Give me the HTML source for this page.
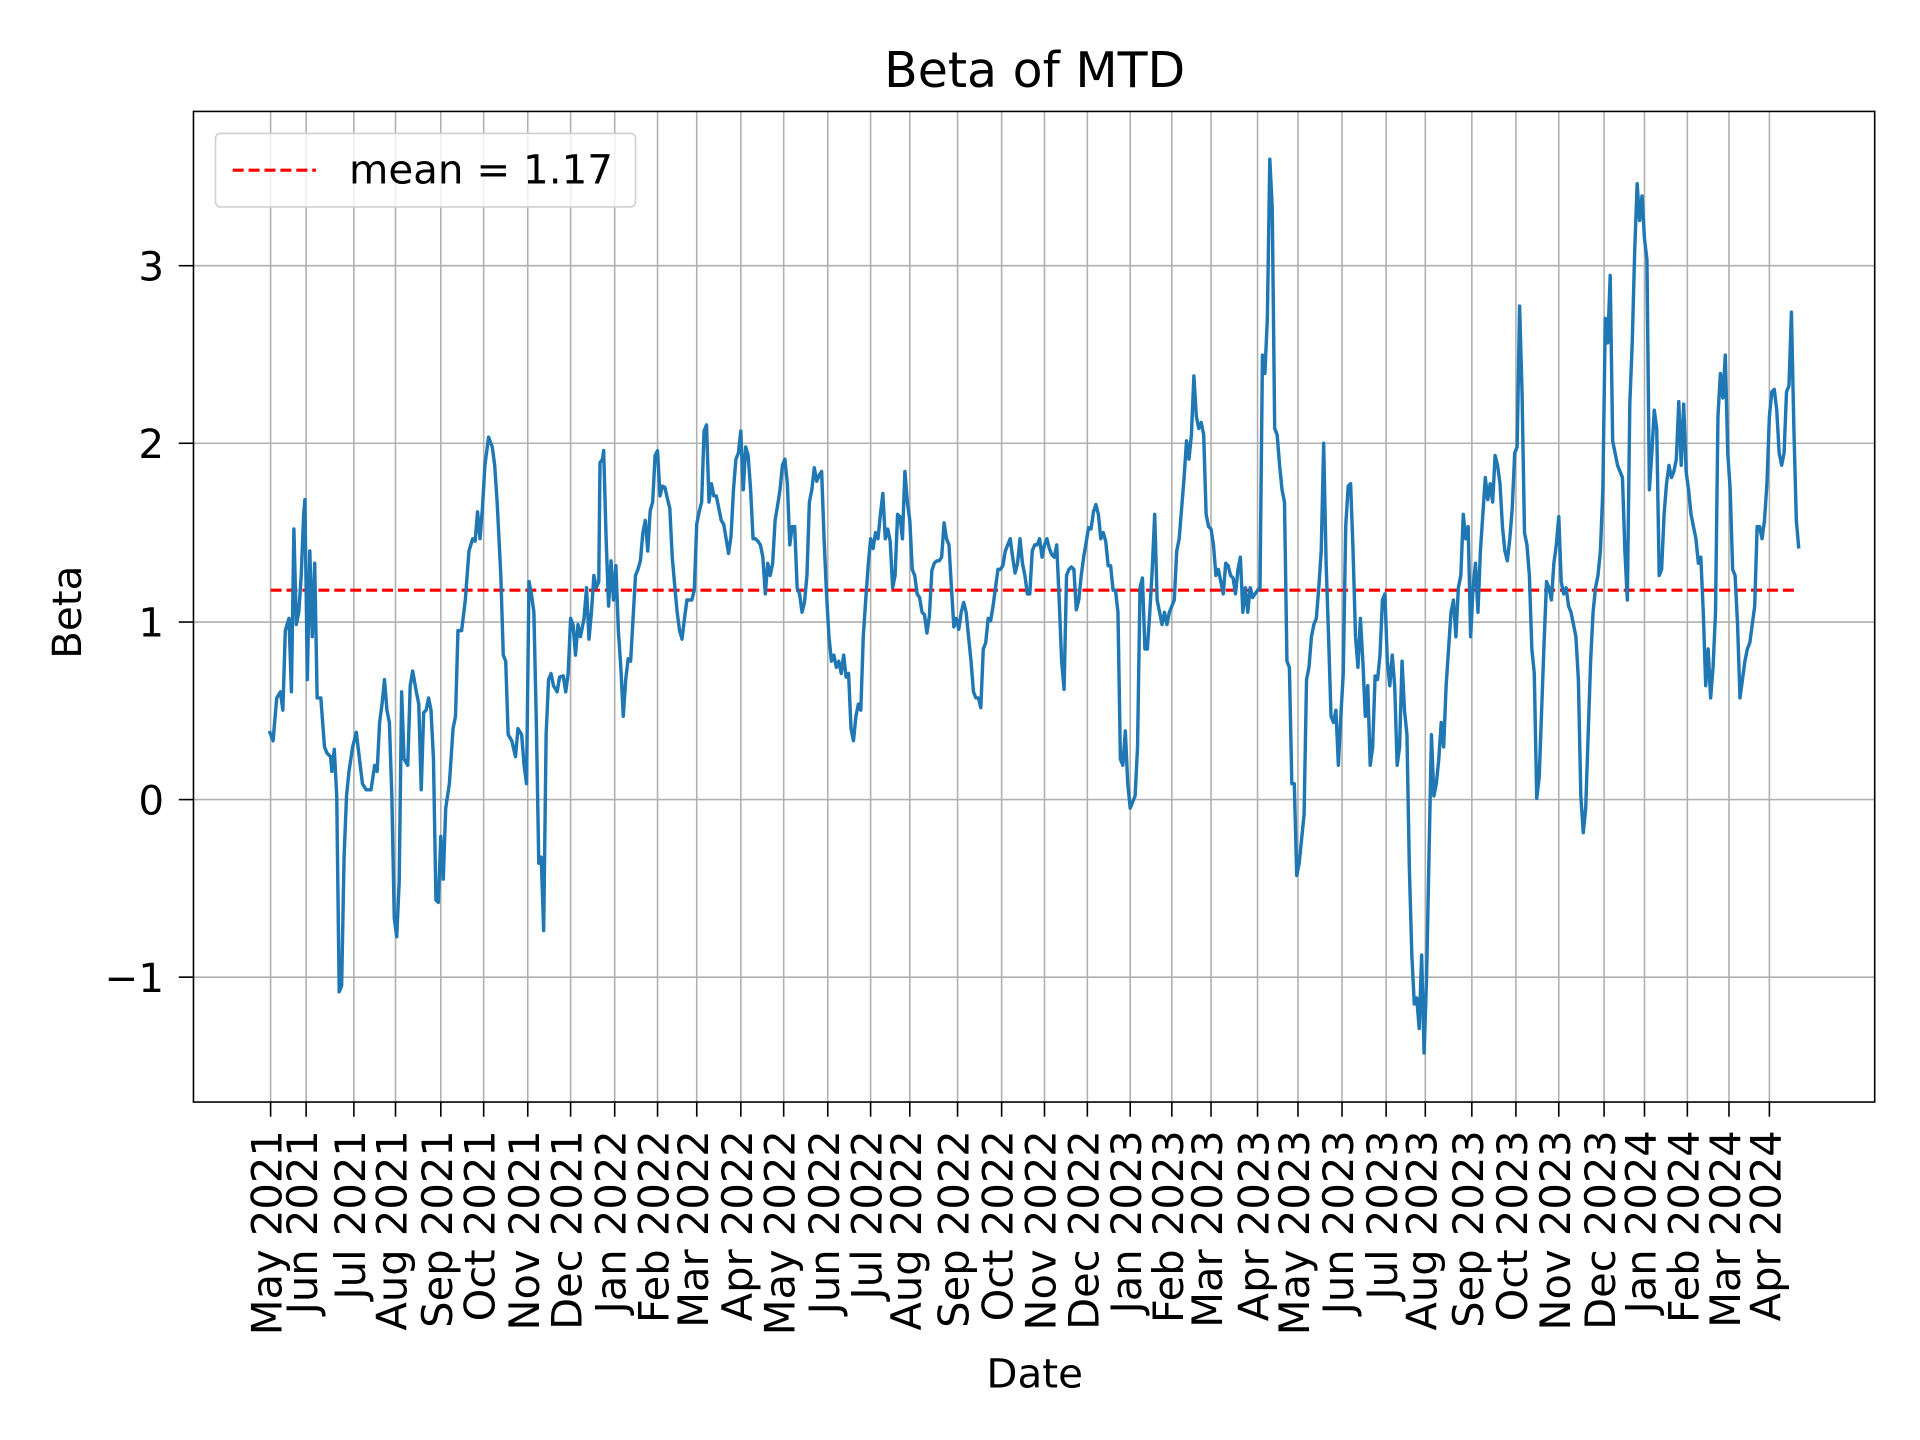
<!DOCTYPE html>
<html><head><meta charset="utf-8"><style>html,body{margin:0;padding:0;background:#fff}svg{display:block}</style></head><body>
<svg width="1920" height="1440" viewBox="0 0 1568 1176" preserveAspectRatio="none" xmlns="http://www.w3.org/2000/svg" font-family="'DejaVu Sans','Liberation Sans',sans-serif">
<rect width="1568" height="1176" fill="#fff"/>
<g stroke="#b0b0b0" stroke-width="1.3">
<line x1="221" y1="91" x2="221" y2="900"/><line x1="250" y1="91" x2="250" y2="900"/><line x1="289" y1="91" x2="289" y2="900"/><line x1="323" y1="91" x2="323" y2="900"/><line x1="360" y1="91" x2="360" y2="900"/><line x1="395" y1="91" x2="395" y2="900"/><line x1="431" y1="91" x2="431" y2="900"/><line x1="466" y1="91" x2="466" y2="900"/><line x1="502" y1="91" x2="502" y2="900"/><line x1="537" y1="91" x2="537" y2="900"/><line x1="569" y1="91" x2="569" y2="900"/><line x1="605" y1="91" x2="605" y2="900"/><line x1="640" y1="91" x2="640" y2="900"/><line x1="676" y1="91" x2="676" y2="900"/><line x1="711" y1="91" x2="711" y2="900"/><line x1="743" y1="91" x2="743" y2="900"/><line x1="782" y1="91" x2="782" y2="900"/><line x1="818" y1="91" x2="818" y2="900"/><line x1="853" y1="91" x2="853" y2="900"/><line x1="888" y1="91" x2="888" y2="900"/><line x1="923" y1="91" x2="923" y2="900"/><line x1="957" y1="91" x2="957" y2="900"/><line x1="989" y1="91" x2="989" y2="900"/><line x1="1027" y1="91" x2="1027" y2="900"/><line x1="1060" y1="91" x2="1060" y2="900"/><line x1="1096" y1="91" x2="1096" y2="900"/><line x1="1132" y1="91" x2="1132" y2="900"/><line x1="1164" y1="91" x2="1164" y2="900"/><line x1="1202" y1="91" x2="1202" y2="900"/><line x1="1238" y1="91" x2="1238" y2="900"/><line x1="1273" y1="91" x2="1273" y2="900"/><line x1="1310" y1="91" x2="1310" y2="900"/><line x1="1343" y1="91" x2="1343" y2="900"/><line x1="1378" y1="91" x2="1378" y2="900"/><line x1="1412" y1="91" x2="1412" y2="900"/><line x1="1445" y1="91" x2="1445" y2="900"/>
<line x1="158" y1="217" x2="1531" y2="217"/><line x1="158" y1="362" x2="1531" y2="362"/><line x1="158" y1="508" x2="1531" y2="508"/><line x1="158" y1="653" x2="1531" y2="653"/><line x1="158" y1="798" x2="1531" y2="798"/>
</g>
<line x1="221" y1="482" x2="1469" y2="482" stroke="#ff0000" stroke-width="2.6" stroke-dasharray="9,4"/>
<polyline fill="none" stroke="#1f77b4" stroke-width="2.8" stroke-linejoin="round" points="220,597 223,605 226,570 229,565 231,580 233,515 236,505 238,565 240,432 242,510 244,500 246,470 248,420 249,408 251,555 253,450 255,520 257,460 259,570 262,570 265,610 267,615 270,618 271,630 273,612 275,650 277,810 279,805 281,700 283,650 285,630 288,610 291,598 293,615 296,640 299,645 303,645 306,625 308,630 310,590 312,575 314,555 316,580 318,590 320,650 322,750 324,765 326,720 328,565 330,620 333,625 335,560 337,548 340,565 342,575 344,645 346,582 348,580 350,570 352,580 354,620 356,735 358,737 360,683 362,718 364,660 367,640 370,595 372,585 374,515 377,515 380,490 383,450 386,440 388,442 390,418 392,440 394,415 396,380 399,357 402,365 404,380 406,410 409,470 411,535 413,540 415,600 418,605 421,618 423,595 426,600 428,625 430,640 432,475 434,485 436,500 438,590 440,705 442,700 444,760 446,600 448,555 450,550 452,560 455,565 457,553 460,552 462,565 464,550 466,505 468,510 470,535 472,510 474,520 477,505 479,480 481,522 483,500 485,470 487,480 489,475 490,378 492,375 493,368 495,440 497,495 499,458 501,490 503,462 505,515 507,545 509,585 511,555 513,538 515,540 517,505 519,470 521,465 523,458 525,435 527,425 529,450 531,417 533,410 535,372 537,368 539,405 541,397 543,398 545,407 547,415 549,455 551,478 553,500 555,515 557,522 559,505 561,490 563,490 565,490 567,482 569,428 571,418 573,410 575,352 577,347 579,410 581,395 583,405 585,405 587,415 589,425 591,428 593,440 595,452 597,438 599,400 601,375 603,370 605,352 607,400 609,365 611,372 613,400 615,440 617,440 619,442 621,445 623,455 625,485 627,460 629,470 631,460 633,425 635,413 637,400 639,380 641,375 643,395 645,445 647,430 649,430 651,480 653,485 655,500 657,492 659,470 661,410 663,400 665,382 667,393 669,388 671,385 673,440 675,485 677,520 679,540 681,535 683,545 685,540 687,550 689,535 691,553 693,550 695,595 697,605 699,585 701,575 703,580 705,520 707,490 709,462 711,440 713,448 715,435 717,440 719,420 721,403 723,440 725,432 727,442 729,480 731,470 733,420 735,422 737,440 739,385 741,410 743,425 745,465 747,470 749,485 751,488 753,500 755,502 757,517 759,503 761,466 763,460 765,458 767,458 769,455 771,427 773,440 775,445 777,480 779,512 781,505 783,514 785,500 787,492 789,500 791,520 793,540 795,565 797,570 799,570 801,578 803,530 805,525 807,505 809,507 811,495 813,480 815,465 817,465 819,462 821,450 823,445 825,440 827,455 829,468 831,460 833,440 835,460 837,470 839,485 841,485 843,450 845,445 847,445 849,440 851,455 853,445 855,440 857,448 859,453 861,455 863,445 865,490 867,540 869,563 871,470 873,465 875,463 877,465 879,498 881,490 883,470 885,455 887,443 889,431 891,432 893,418 895,412 897,420 899,440 901,435 903,442 905,462 907,462 909,482 911,482 913,500 915,620 917,625 919,597 921,640 923,660 925,655 927,650 929,610 931,480 933,472 935,530 937,530 939,500 941,465 943,420 945,490 947,500 949,510 951,500 953,510 955,500 957,495 959,490 961,450 963,440 965,415 967,390 969,360 971,375 973,355 975,307 977,340 979,350 981,345 983,355 985,420 987,430 989,432 991,445 993,470 995,465 997,475 999,485 1001,460 1003,462 1005,470 1007,472 1009,485 1011,465 1013,455 1015,500 1017,480 1019,500 1021,480 1023,488 1025,485 1027,482 1029,480 1031,290 1033,305 1035,260 1037,130 1039,170 1041,350 1043,355 1045,380 1047,400 1049,410 1051,540 1053,545 1055,640 1057,640 1059,715 1061,705 1063,685 1065,665 1067,555 1069,545 1071,520 1073,510 1075,505 1077,480 1079,450 1081,362 1083,460 1085,520 1087,585 1089,590 1091,580 1093,625 1095,585 1097,550 1099,430 1101,397 1103,395 1105,450 1107,520 1109,545 1111,505 1113,540 1115,585 1117,560 1119,625 1121,610 1123,552 1125,555 1127,535 1129,490 1131,485 1133,540 1135,560 1137,535 1139,560 1141,625 1143,610 1145,540 1147,580 1149,600 1151,710 1153,780 1155,820 1157,815 1159,840 1161,780 1163,860 1165,800 1167,700 1169,600 1171,650 1173,640 1175,620 1177,590 1179,610 1181,560 1183,530 1185,500 1187,490 1189,520 1191,480 1193,470 1195,420 1197,440 1199,430 1201,520 1203,480 1205,460 1207,500 1209,450 1211,420 1213,390 1215,408 1217,395 1219,410 1221,372 1223,380 1225,395 1227,430 1229,450 1231,458 1233,440 1235,415 1237,370 1239,365 1241,250 1243,320 1245,435 1247,445 1249,470 1251,530 1253,550 1255,652 1257,635 1259,580 1261,525 1263,475 1265,480 1267,490 1269,460 1271,445 1273,422 1275,475 1277,485 1279,480 1281,495 1283,500 1285,510 1287,520 1289,555 1291,650 1293,680 1295,660 1297,600 1299,540 1301,500 1303,480 1305,470 1307,450 1309,400 1311,260 1313,280 1315,225 1317,360 1319,370 1321,380 1323,385 1325,390 1327,450 1329,490 1331,330 1333,280 1335,205 1337,150 1339,180 1341,160 1343,195 1345,212 1347,400 1349,370 1351,335 1353,350 1355,470 1357,465 1359,420 1361,395 1363,380 1365,390 1367,385 1369,375 1371,328 1373,380 1375,330 1377,385 1379,400 1381,420 1383,430 1385,440 1387,460 1389,455 1391,500 1393,560 1395,530 1397,570 1399,545 1401,500 1403,340 1405,305 1407,325 1409,290 1411,370 1413,400 1415,465 1417,470 1419,510 1421,570 1423,555 1425,540 1427,530 1429,525 1431,510 1433,495 1435,430 1437,430 1439,440 1441,425 1443,395 1445,340 1447,320 1449,318 1451,335 1453,370 1455,380 1457,370 1459,320 1461,315 1463,255 1465,350 1467,425 1469,448"/>
<rect x="158" y="91" width="1373" height="809" fill="none" stroke="#000" stroke-width="1.3"/>
<g stroke="#000" stroke-width="1.3">
<line x1="146" y1="217" x2="158" y2="217"/><line x1="146" y1="362" x2="158" y2="362"/><line x1="146" y1="508" x2="158" y2="508"/><line x1="146" y1="653" x2="158" y2="653"/><line x1="146" y1="798" x2="158" y2="798"/>
</g>
<g font-size="33" text-anchor="end" fill="#000">
<text x="134" y="229">3</text><text x="134" y="374">2</text><text x="134" y="520">1</text><text x="134" y="665">0</text><text x="134" y="810">−1</text>
</g>
<g font-size="34" text-anchor="end" fill="#000">
<text transform="translate(230,923) rotate(-90)">May 2021</text><text transform="translate(259,923) rotate(-90)">Jun 2021</text><text transform="translate(298,923) rotate(-90)">Jul 2021</text><text transform="translate(332,923) rotate(-90)">Aug 2021</text><text transform="translate(369,923) rotate(-90)">Sep 2021</text><text transform="translate(404,923) rotate(-90)">Oct 2021</text><text transform="translate(440,923) rotate(-90)">Nov 2021</text><text transform="translate(475,923) rotate(-90)">Dec 2021</text><text transform="translate(511,923) rotate(-90)">Jan 2022</text><text transform="translate(546,923) rotate(-90)">Feb 2022</text><text transform="translate(578,923) rotate(-90)">Mar 2022</text><text transform="translate(614,923) rotate(-90)">Apr 2022</text><text transform="translate(649,923) rotate(-90)">May 2022</text><text transform="translate(685,923) rotate(-90)">Jun 2022</text><text transform="translate(720,923) rotate(-90)">Jul 2022</text><text transform="translate(752,923) rotate(-90)">Aug 2022</text><text transform="translate(791,923) rotate(-90)">Sep 2022</text><text transform="translate(827,923) rotate(-90)">Oct 2022</text><text transform="translate(862,923) rotate(-90)">Nov 2022</text><text transform="translate(897,923) rotate(-90)">Dec 2022</text><text transform="translate(932,923) rotate(-90)">Jan 2023</text><text transform="translate(966,923) rotate(-90)">Feb 2023</text><text transform="translate(998,923) rotate(-90)">Mar 2023</text><text transform="translate(1036,923) rotate(-90)">Apr 2023</text><text transform="translate(1069,923) rotate(-90)">May 2023</text><text transform="translate(1105,923) rotate(-90)">Jun 2023</text><text transform="translate(1141,923) rotate(-90)">Jul 2023</text><text transform="translate(1173,923) rotate(-90)">Aug 2023</text><text transform="translate(1211,923) rotate(-90)">Sep 2023</text><text transform="translate(1247,923) rotate(-90)">Oct 2023</text><text transform="translate(1282,923) rotate(-90)">Nov 2023</text><text transform="translate(1319,923) rotate(-90)">Dec 2023</text><text transform="translate(1352,923) rotate(-90)">Jan 2024</text><text transform="translate(1387,923) rotate(-90)">Feb 2024</text><text transform="translate(1421,923) rotate(-90)">Mar 2024</text><text transform="translate(1454,923) rotate(-90)">Apr 2024</text>
</g>
<g stroke="#000" stroke-width="1.3">
<line x1="221" y1="900" x2="221" y2="912"/><line x1="250" y1="900" x2="250" y2="912"/><line x1="289" y1="900" x2="289" y2="912"/><line x1="323" y1="900" x2="323" y2="912"/><line x1="360" y1="900" x2="360" y2="912"/><line x1="395" y1="900" x2="395" y2="912"/><line x1="431" y1="900" x2="431" y2="912"/><line x1="466" y1="900" x2="466" y2="912"/><line x1="502" y1="900" x2="502" y2="912"/><line x1="537" y1="900" x2="537" y2="912"/><line x1="569" y1="900" x2="569" y2="912"/><line x1="605" y1="900" x2="605" y2="912"/><line x1="640" y1="900" x2="640" y2="912"/><line x1="676" y1="900" x2="676" y2="912"/><line x1="711" y1="900" x2="711" y2="912"/><line x1="743" y1="900" x2="743" y2="912"/><line x1="782" y1="900" x2="782" y2="912"/><line x1="818" y1="900" x2="818" y2="912"/><line x1="853" y1="900" x2="853" y2="912"/><line x1="888" y1="900" x2="888" y2="912"/><line x1="923" y1="900" x2="923" y2="912"/><line x1="957" y1="900" x2="957" y2="912"/><line x1="989" y1="900" x2="989" y2="912"/><line x1="1027" y1="900" x2="1027" y2="912"/><line x1="1060" y1="900" x2="1060" y2="912"/><line x1="1096" y1="900" x2="1096" y2="912"/><line x1="1132" y1="900" x2="1132" y2="912"/><line x1="1164" y1="900" x2="1164" y2="912"/><line x1="1202" y1="900" x2="1202" y2="912"/><line x1="1238" y1="900" x2="1238" y2="912"/><line x1="1273" y1="900" x2="1273" y2="912"/><line x1="1310" y1="900" x2="1310" y2="912"/><line x1="1343" y1="900" x2="1343" y2="912"/><line x1="1378" y1="900" x2="1378" y2="912"/><line x1="1412" y1="900" x2="1412" y2="912"/><line x1="1445" y1="900" x2="1445" y2="912"/>
</g>
<text x="845" y="1133" font-size="33" text-anchor="middle">Date</text>
<text transform="translate(66,500) rotate(-90)" font-size="33" text-anchor="middle">Beta</text>
<text x="845" y="71" font-size="40" text-anchor="middle">Beta of MTD</text>
<rect x="176" y="109" width="343" height="60" rx="4" fill="#fff" fill-opacity="0.8" stroke="#d0d0d0" stroke-width="1.3"/>
<line x1="190" y1="139" x2="258" y2="139" stroke="#ff0000" stroke-width="2.6" stroke-dasharray="9,4"/>
<text x="285" y="150" font-size="33">mean = 1.17</text>
</svg>
</body></html>
